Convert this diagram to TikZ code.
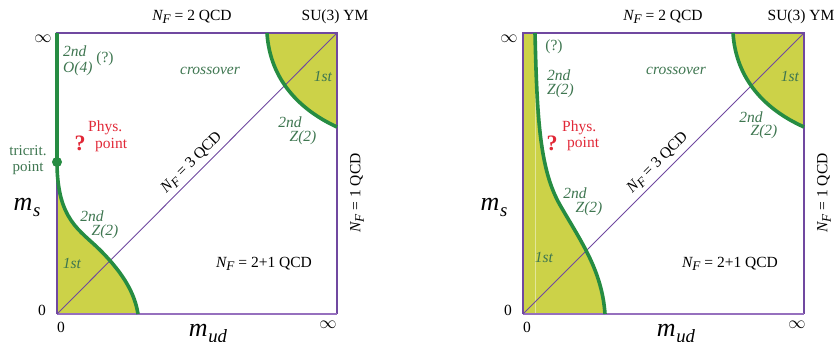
\documentclass[tikz,border=0pt]{standalone}
\usepackage{fontspec}
\setmainfont{Liberation Serif}
\definecolor{lgreen}{RGB}{38,140,66}
\definecolor{tgreen}{RGB}{62,118,80}
\definecolor{fillY}{RGB}{204,210,72}
\definecolor{frameP}{RGB}{112,72,160}
\definecolor{frameB}{RGB}{150,112,190}
\definecolor{physred}{RGB}{225,40,55}
\newcommand{\NF}{\textit{N}\kern-0.05em\raisebox{-0.5ex}{\scalebox{0.85}{\textit{F}}}}
\newcommand{\msym}[1]{\textit{m}\kern0.02em\raisebox{-0.5ex}{\scalebox{0.72}{\textit{#1}}}}
\tikzset{
  lbl/.style={inner sep=0pt, font=\fontsize{15.5}{16}\selectfont},
  glbl/.style={lbl, text=tgreen, font=\fontsize{15.5}{16}\selectfont\itshape},
  gup/.style={lbl, text=tgreen},
  big/.style={inner sep=0pt, font=\fontsize{26}{26}\selectfont},
  infl/.style={inner sep=0pt, font=\fontsize{18}{18}\selectfont},
  frame/.style={draw=frameP, line width=1.1pt},
  bframe/.style={draw=frameB, line width=2.4pt},
  gline/.style={draw=lgreen, line width=3.6pt},
  red/.style={lbl, text=physred},
}
\begin{document}
\begin{tikzpicture}[x=1pt,y=-1pt]
\useasboundingbox (0,0) rectangle (835,342);
% ---------------- left panel ----------------
\fill[fillY] (57,162) .. controls (57,220) and (80,230) .. (100,250) .. controls (125,275) and (135,295) .. (138,314) -- (57,314) -- cycle;
\fill[fillY] (267,33) .. controls (270,80) and (300,110) .. (337,127) -- (337,33) -- cycle;
\draw[frame] (57,314) -- (57,33) -- (337,33) -- (337,314);
\draw[bframe] (57,314) -- (337,314);
\draw[draw=frameP, line width=0.9pt] (57,314) -- (337,33);
\draw[gline] (57,33) -- (57,162) .. controls (57,220) and (80,230) .. (100,250) .. controls (125,275) and (135,295) .. (138,314);
\draw[gline] (267,33) .. controls (270,80) and (300,110) .. (337,127);
\fill[lgreen] (57,162) circle (5);
\node[infl] (Linf1) at (43,39) {$\infty$};
\node[infl] (Linf2) at (328,325) {$\infty$};
\node[lbl] (LNF2) at (192,17) {\NF{} = 2 QCD};
\node[lbl] (LSU) at (335,17) {SU(3) YM};
\node[glbl, anchor=west] (L2nda) at (63,51) {2nd};
\node[glbl, anchor=west] (LO4) at (63,69) {O(4)};
\node[gup] (Lq) at (105,59) {(?)};
\node[glbl] (Lcross) at (210,71) {crossover};
\node[red, font=\fontsize{22}{22}\selectfont\bfseries] (Lqm) at (80,143) {?};
\node[red, anchor=west] (Lphys) at (88,128) {Phys.};
\node[red, anchor=west] (Lpoint) at (95,145) {point};
\node[lbl, text=tgreen, align=center, font=\fontsize{15}{16.5}\selectfont] (Ltri) at (28,160) {tricrit.\\point};
\node[big] (Lms) at (27,207) {\msym{s}};
\node[glbl] (L2ndb) at (92,216) {2nd};
\node[glbl] (LZb) at (105,232) {Z(2)};
\node[glbl] (L1st) at (72,263) {1st};
\node[lbl] (L0a) at (42,310) {0};
\node[lbl] (L0b) at (61,327) {0};
\node[big] (Lmud) at (208,333) {\msym{ud}};
\node[lbl] (LNF21) at (264,264) {\NF{} = 2+1 QCD};
\node[lbl, rotate=90] (LNF1) at (357,193) {\NF{} = 1 QCD};
\node[lbl, rotate=45] (LNF3) at (192,163) {\NF{} = 3 QCD};
\node[glbl] (L1stc) at (323,76) {1st};
\node[glbl] (L2ndc) at (290,122) {2nd};
\node[glbl] (LZc) at (303,138) {Z(2)};
% ---------------- right panel ----------------
\fill[fillY] (523,33) -- (535,33) .. controls (537,120) and (540,170) .. (560,205) .. controls (580,240) and (602,270) .. (605,314) -- (523,314) -- cycle;
\fill[fillY] (733,33) .. controls (736,80) and (766,110) .. (804,127) -- (804,33) -- cycle;
\draw[white, opacity=0.45, line width=0.7pt] (535,33) -- (535,314);
\draw[frame] (523,314) -- (523,33) -- (804,33) -- (804,314);
\draw[bframe] (523,314) -- (804,314);
\draw[draw=frameP, line width=0.9pt] (523,314) -- (804,33);
\draw[gline] (535,33) .. controls (537,120) and (540,170) .. (560,205) .. controls (580,240) and (602,270) .. (605,314);
\draw[gline] (733,33) .. controls (736,80) and (766,110) .. (804,127);
\node[infl] (Rinf1) at (509,39) {$\infty$};
\node[infl] (Rinf2) at (797,325) {$\infty$};
\node[lbl] (RNF2) at (663,17) {\NF{} = 2 QCD};
\node[lbl] (RSU) at (801,17) {SU(3) YM};
\node[gup] (Rq) at (554,47) {(?)};
\node[glbl, anchor=west] (R2nda) at (547,75) {2nd};
\node[glbl, anchor=west] (RZa) at (547,91) {Z(2)};
\node[glbl] (Rcross) at (676,71) {crossover};
\node[red, font=\fontsize{22}{22}\selectfont\bfseries] (Rqm) at (552,143) {?};
\node[red, anchor=west] (Rphys) at (562,128) {Phys.};
\node[red, anchor=west] (Rpoint) at (567,144) {point};
\node[big] (Rms) at (494,207) {\msym{s}};
\node[glbl] (R2ndb) at (575,193) {2nd};
\node[glbl] (RZb) at (589,209) {Z(2)};
\node[glbl] (R1st) at (544,257) {1st};
\node[lbl] (R0a) at (508,310) {0};
\node[lbl] (R0b) at (527,327) {0};
\node[big] (Rmud) at (676,333) {\msym{ud}};
\node[lbl] (RNF21) at (730,264) {\NF{} = 2+1 QCD};
\node[lbl, rotate=90] (RNF1) at (824,193) {\NF{} = 1 QCD};
\node[lbl, rotate=45] (RNF3) at (658,163) {\NF{} = 3 QCD};
\node[glbl] (R1stc) at (790,76) {1st};
\node[glbl] (R2ndc) at (751,117) {2nd};
\node[glbl] (RZc) at (764,132) {Z(2)};
\end{tikzpicture}
\end{document}
